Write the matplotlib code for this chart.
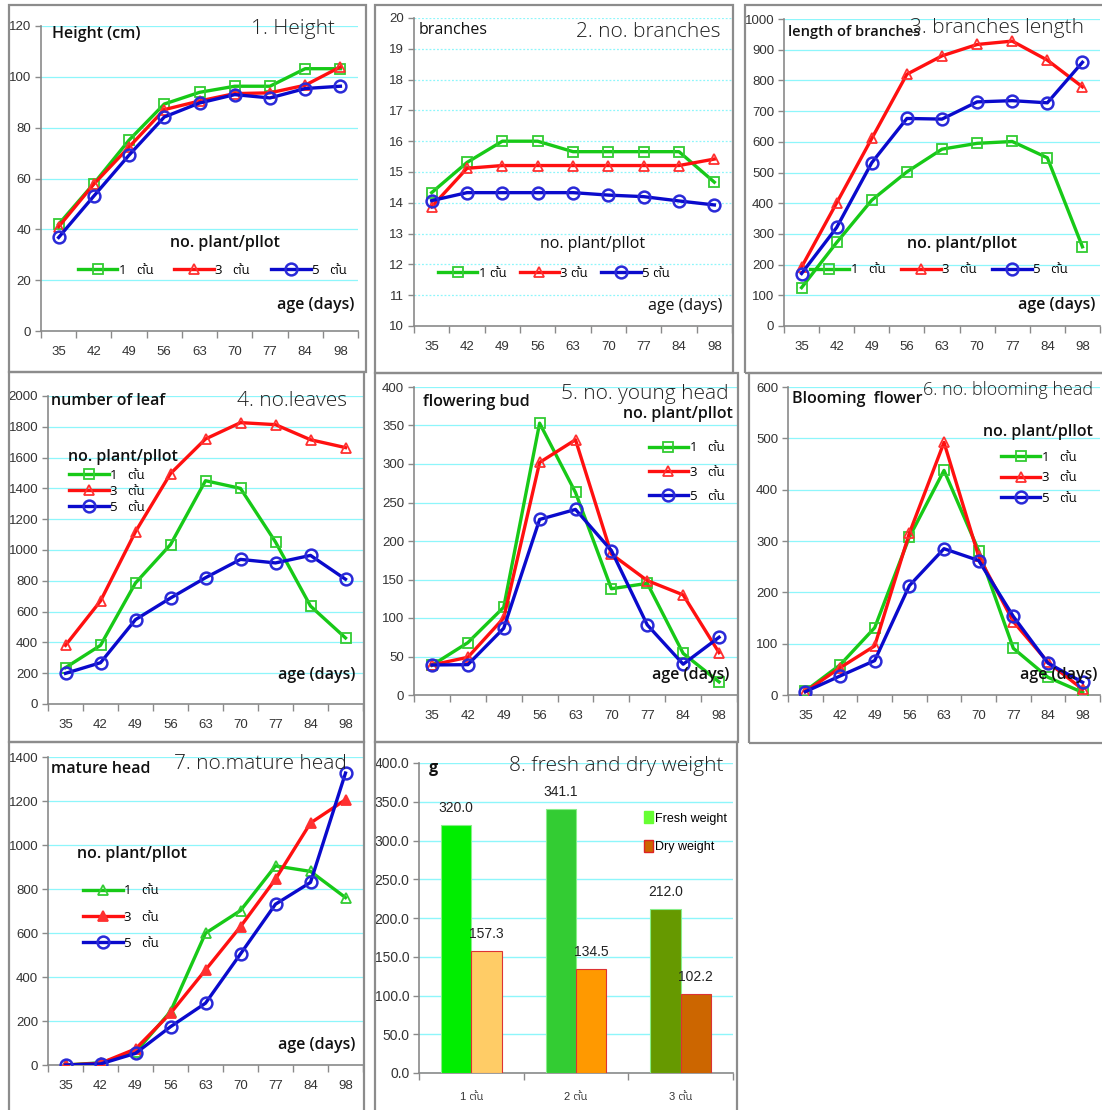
import numpy as np
import matplotlib
matplotlib.use('Agg')
import matplotlib.pyplot as plt
from matplotlib import font_manager as fm
from matplotlib.ft2font import FT2Font
from matplotlib.patches import Rectangle
from matplotlib.ticker import FixedLocator, FormatStrFormatter

# ---------------- data ----------------
days = ['35', '42', '49', '56', '63', '70', '77', '84', '98']
plants = ['1', '3', '5']

height_1 = [42.0, 58.0, 75.1, 89.3, 93.9, 96.3, 96.3, 103.2, 103.2]
height_3 = [41.0, 57.8, 72.4, 87.1, 90.5, 93.4, 93.7, 96.7, 103.9]
height_5 = [36.8, 53.1, 69.2, 84.2, 89.7, 93.0, 91.7, 95.4, 96.3]

branch_1 = [14.33, 15.31, 16.0, 16.0, 15.66, 15.66, 15.66, 15.66, 14.67]
branch_3 = [13.87, 15.12, 15.21, 15.21, 15.21, 15.21, 15.21, 15.21, 15.42]
branch_5 = [14.07, 14.33, 14.33, 14.33, 14.33, 14.25, 14.2, 14.06, 13.93]

blen_1 = [125, 272, 410, 502, 576, 595, 601, 548, 258]
blen_3 = [192, 401, 611, 820, 880, 917, 928, 866, 779]
blen_5 = [171, 321, 532, 676, 674, 730, 734, 727, 859]

leaf_1 = [236, 381, 786, 1035, 1450, 1400, 1052, 636, 429]
leaf_3 = [381, 669, 1119, 1496, 1721, 1827, 1814, 1716, 1665]
leaf_5 = [199, 268, 548, 688, 820, 939, 916, 965, 810]

young_1 = [38.6, 68, 114, 353, 263, 138, 145, 54, 17]
young_3 = [39, 49, 100, 302, 331.5, 183, 148.6, 130, 55]
young_5 = [39, 39.4, 86.7, 228, 241, 187.6, 91, 40, 75]

bloom_1 = [7.8, 58.5, 131, 307.5, 437.5, 281, 91, 34.5, 5]
bloom_3 = [6.5, 53, 95.6, 315, 492, 270, 143, 63.7, 11]
bloom_5 = [6.5, 37, 67, 213, 285, 262, 153, 62, 24.7]

mature_1 = [0, 10, 58, 243, 599, 702, 905, 880, 761]
mature_3 = [0, 8, 73, 235, 432, 629, 845, 1100, 1206]
mature_5 = [0, 5, 53, 174, 281, 505, 731, 830, 1327]

weight_groups = ['1 ต้น', '2 ต้น', '3 ต้น']
fresh_weight = [320.0, 341.1, 212.0]
dry_weight = [157.3, 134.5, 102.2]

# ---------------- fonts ----------------
def has_font(name):
    try:
        fm.findfont(fm.FontProperties(family=name), fallback_to_default=False)
        return True
    except Exception:
        return False

thai_candidates = []
for f in fm.fontManager.ttflist:
    try:
        if 0x0E15 in FT2Font(f.fname).get_charmap():
            thai_candidates.append(f.name)
    except Exception:
        pass
thai_candidates = sorted(set(thai_candidates), key=lambda n: (0 if 'Sans' in n else 1, n))
thai = thai_candidates[:1]

tick_font = ['Liberation Sans Narrow'] if has_font('Liberation Sans Narrow') else ['Liberation Sans']
text_font = ['Open Sans'] if has_font('Open Sans') else ['DejaVu Sans']
FT = text_font + thai + ['DejaVu Sans']
TK = tick_font + thai + ['DejaVu Sans']

plt.rcParams['font.family'] = FT

W, H = 1102, 1110
fig = plt.figure(figsize=(W / 100, H / 100), dpi=100)
fig.patch.set_facecolor('white')

GREEN = '#17c917'
RED = '#ff1010'
BLUE = '#0a0acc'
GRID = '#8ef6fb'
SPINE = '#8a8a8a'


def add_axes(x0, y0, x1, y1):
    return fig.add_axes([x0 / W, 1 - y1 / H, (x1 - x0) / W, (y1 - y0) / H])


def border(x0, y0, x1, y1):
    fig.add_artist(Rectangle((x0 / W, 1 - y1 / H), (x1 - x0) / W, (y1 - y0) / H,
                             transform=fig.transFigure, fill=False,
                             edgecolor='#8c8c8c', lw=1.6))


def setup(ax, ymin, ymax, ystep, labels, dotted=False, fmt=None):
    n = len(labels)
    ax.set_xlim(-0.5, n - 0.5)
    ax.set_ylim(ymin, ymax)
    ax.set_yticks(np.arange(ymin, ymax + ystep / 2, ystep))
    ax.set_xticks(range(n))
    ax.set_xticklabels(labels)
    ax.xaxis.set_minor_locator(FixedLocator(np.arange(-0.5, n, 1.0)))
    ax.tick_params(axis='x', which='major', length=0, pad=11, labelsize=9.5,
                   labelcolor='#333333')
    ax.tick_params(axis='x', which='minor', length=5, color=SPINE, width=1)
    ax.tick_params(axis='y', length=4, color=SPINE, width=1, labelsize=9.5,
                   labelcolor='#333333', pad=3)
    for lab in ax.get_xticklabels() + ax.get_yticklabels():
        lab.set_family(TK)
    if fmt:
        ax.yaxis.set_major_formatter(FormatStrFormatter(fmt))
    ax.grid(axis='y', color=GRID, lw=0.9, ls=(0, (1.5, 1.5)) if dotted else '-')
    ax.set_axisbelow(True)
    for s in ['top', 'right']:
        ax.spines[s].set_visible(False)
    for s in ['left', 'bottom']:
        ax.spines[s].set_color(SPINE)
        ax.spines[s].set_linewidth(1.2)


def lines(ax, series, markers, labels):
    cols = [GREEN, RED, BLUE]
    ecols = ['#33cc33', '#ff3030', '#2a2ad8']
    x = np.arange(len(days))
    for s, m, c, ec, lab in zip(series, markers, cols, ecols, labels):
        mk, fill = m
        size = 8.5 if mk == 'o' else 6.5
        ax.plot(x, s, color=c, lw=2.4, marker=mk, ms=size,
                mfc=(ec if fill else 'none'), mec=ec, mew=1.3 if mk != 'o' else 1.8,
                label=lab, zorder=3)


def t(ax, x, y, s, size=11.5, ha='left', va='center', weight='semibold', color='#111111'):
    ax.text(x, y, s, transform=ax.transAxes, fontsize=size, ha=ha, va=va,
            fontweight=weight, color=color, family=FT, zorder=5)


def title(ax, x, y, s, size=15):
    ax.text(x, y, s, transform=ax.transAxes, fontsize=size, ha='center', va='center',
            fontweight='light', color='#222222', family=FT, zorder=5)


def leg(ax, labels, ncol, loc, anchor, spacing=0.3, colsp=1.2, hl=3.0, size=9.5):
    h, _ = ax.get_legend_handles_labels()
    lg = ax.legend(h, labels, ncol=ncol, loc=loc, bbox_to_anchor=anchor,
                   frameon=False, handlelength=hl, handletextpad=0.1,
                   columnspacing=colsp, labelspacing=spacing, borderaxespad=0,
                   prop={'family': FT, 'size': size})
    return lg


lab_sp = [p + '   ต้น' for p in plants]
lab_tight = [p + ' ต้น' for p in plants]

# ---------------- panel 1 ----------------
border(9, 5, 366, 372)
ax = add_axes(41, 26, 358, 331)
setup(ax, 0, 120, 20, days)
lines(ax, [height_1, height_3, height_5], [('s', 0), ('^', 0), ('o', 0)], lab_sp)
t(ax, 0.035, 0.975, 'Height (cm)')
title(ax, 0.795, 0.99, '1. Height')
t(ax, 0.58, 0.29, 'no. plant/pllot', ha='center')
leg(ax, lab_sp, 3, 'center', (0.54, 0.2), colsp=1.6, hl=3.0)
t(ax, 0.99, 0.085, 'age (days)', ha='right')

# ---------------- panel 2 ----------------
border(375, 5, 733, 373)
ax = add_axes(414, 18, 732, 326)
setup(ax, 10, 20, 1, days, dotted=True)
lines(ax, [branch_1, branch_3, branch_5], [('s', 0), ('^', 0), ('o', 0)], lab_tight)
t(ax, 0.013, 0.961, 'branches', weight='normal')
title(ax, 0.736, 0.955, '2. no. branches')
t(ax, 0.56, 0.266, 'no. plant/pllot', ha='center', weight='normal')
leg(ax, lab_tight, 3, 'center', (0.44, 0.172), colsp=1.0)
t(ax, 0.97, 0.065, 'age (days)', ha='right', weight='normal')

# ---------------- panel 3 ----------------
border(745, 5, 1104, 373)
ax = add_axes(784, 19, 1100, 326)
setup(ax, 0, 1000, 100, days)
lines(ax, [blen_1, blen_3, blen_5], [('s', 0), ('^', 0), ('o', 0)], lab_sp)
t(ax, 0.013, 0.958, 'length of branches', size=10.5)
title(ax, 0.675, 0.97, '3. branches length')
t(ax, 0.563, 0.267, 'no. plant/pllot', ha='center')
leg(ax, lab_sp, 3, 'center', (0.49, 0.183), colsp=1.2)
t(ax, 0.984, 0.068, 'age (days)', ha='right')

# ---------------- panel 4 ----------------
border(9, 372, 364, 742)
ax = add_axes(48, 396, 363, 704)
setup(ax, 0, 2000, 200, days)
lines(ax, [leaf_1, leaf_3, leaf_5], [('s', 0), ('^', 0), ('o', 0)], lab_sp)
t(ax, 0.01, 0.985, 'number of leaf')
title(ax, 0.775, 0.985, '4. no.leaves')
t(ax, 0.238, 0.802, 'no. plant/pllot', ha='center')
leg(ax, lab_sp, 1, 'center left', (0.05, 0.69), spacing=0.22)
t(ax, 0.975, 0.094, 'age (days)', ha='right')

# ---------------- panel 5 ----------------
border(375, 373, 738, 742)
ax = add_axes(414, 387, 737, 695)
setup(ax, 0, 400, 50, days)
lines(ax, [young_1, young_3, young_5], [('s', 0), ('^', 0), ('o', 0)], lab_sp)
t(ax, 0.028, 0.951, 'flowering bud')
title(ax, 0.715, 0.977, '5. no. young head')
t(ax, 0.988, 0.912, 'no. plant/pllot', ha='right')
leg(ax, lab_sp, 1, 'center left', (0.71, 0.724), spacing=0.85)
t(ax, 0.975, 0.065, 'age (days)', ha='right')

# ---------------- panel 6 ----------------
border(749, 373, 1104, 743)
ax = add_axes(788, 387, 1100, 695)
setup(ax, 0, 600, 100, days)
lines(ax, [bloom_1, bloom_3, bloom_5], [('s', 0), ('^', 0), ('o', 0)], lab_sp)
t(ax, 0.013, 0.961, 'Blooming  flower')
title(ax, 0.705, 0.99, '6. no. blooming head', size=13)
t(ax, 0.978, 0.854, 'no. plant/pllot', ha='right')
leg(ax, lab_sp, 1, 'center left', (0.665, 0.705), spacing=0.55)
t(ax, 0.99, 0.065, 'age (days)', ha='right')

# ---------------- panel 7 ----------------
border(9, 742, 364, 1112)
ax = add_axes(48, 757, 363, 1065)
setup(ax, 0, 1400, 200, days)
lines(ax, [mature_1, mature_3, mature_5], [('^', 0), ('^', 1), ('o', 0)], lab_sp)
t(ax, 0.01, 0.961, 'mature head')
title(ax, 0.673, 0.977, '7. no.mature head')
t(ax, 0.267, 0.685, 'no. plant/pllot', ha='center')
leg(ax, lab_sp, 1, 'center left', (0.095, 0.48), spacing=1.0)
t(ax, 0.975, 0.065, 'age (days)', ha='right')

# ---------------- panel 8 ----------------
border(375, 742, 737, 1112)
ax = add_axes(419, 763, 733, 1073)
setup(ax, 0, 400, 50, weight_groups, fmt='%.1f')
ax.tick_params(axis='x', which='major', labelsize=8, pad=14)
ax.tick_params(axis='y', labelsize=10)
ax.grid(axis='y', color=GRID, lw=1.0)
fresh_cols = ['#00ee00', '#33cc33', '#669900']
dry_cols = ['#ffcc66', '#ff9900', '#cc6600']
xg = np.arange(len(weight_groups))
bw = 0.29
fb = ax.bar(xg - bw / 2, fresh_weight, bw, color=fresh_cols, edgecolor='#88ee88', lw=0.8,
            zorder=3)
db = ax.bar(xg + bw / 2, dry_weight, bw, color=dry_cols, edgecolor='#dd3333', lw=0.8,
            zorder=3)
for rect, v in list(zip(fb, fresh_weight)) + list(zip(db, dry_weight)):
    ax.annotate(f'{v:.1f}', (rect.get_x() + rect.get_width() / 2, v), xytext=(0, 12),
                textcoords='offset points', ha='center', va='center', fontsize=10,
                family=TK, color='#222222')
ax.legend([Rectangle((0, 0), 1, 1, fc='#66ff33', ec='#66ff33'),
           Rectangle((0, 0), 1, 1, fc='#cc6600', ec='#dd2222')],
          ['Fresh weight', 'Dry weight'], loc='upper left', bbox_to_anchor=(0.7, 0.86),
          frameon=False, handlelength=0.7, handleheight=1.1, handletextpad=0.2,
          labelspacing=1.2, borderaxespad=0, prop={'family': TK, 'size': 9})
t(ax, 0.03, 0.985, 'g', weight='bold')
title(ax, 0.627, 0.99, '8. fresh and dry weight')

fig.savefig('out.png', dpi=100, facecolor='white')
